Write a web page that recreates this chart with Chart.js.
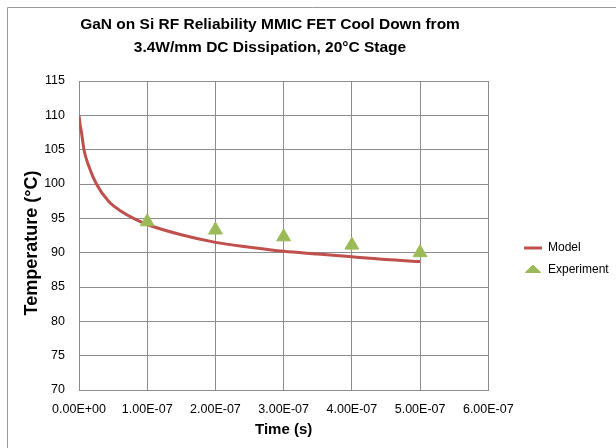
<!DOCTYPE html>
<html><head><meta charset="utf-8">
<script src="https://cdn.jsdelivr.net/npm/chart.js@4"></script>
<style>html,body{margin:0;padding:0;background:#fff}#wrap{width:616px;height:448px;position:relative}</style>
</head><body><div id="wrap"><canvas id="c" width="616" height="448"></canvas></div>
<script>
const titleLines = ['GaN on Si RF Reliability MMIC FET Cool Down from', '3.4W/mm DC Dissipation, 20°C Stage'];
const xAxisTitle = 'Time (s)';
const yAxisTitle = 'Temperature (°C)';
const seriesNames = ['Model', 'Experiment'];

// Model curve (time in s, temperature in °C)
const modelTime = [0, 1.5e-9, 3.5e-9, 7.3e-9, 1.47e-8, 2.55e-8, 4.4e-8, 6.4e-8, 8e-8, 1e-7, 1.5e-7, 2e-7, 2.5e-7, 3e-7, 3.5e-7, 4e-7, 4.5e-7, 5e-7];
const modelTemp = [110, 108.7, 107.6, 105, 102.5, 100, 97.4, 95.9, 95.0, 94.1, 92.6, 91.5, 90.8, 90.2, 89.8, 89.4, 89.0, 88.7];

// Experiment points
const expTime = [1e-7, 2e-7, 3e-7, 4e-7, 5e-7];
const expTemp = [94.5, 93.3, 92.3, 91.1, 90.0];

// Tick values
const xTickValues = [0, 1e-7, 2e-7, 3e-7, 4e-7, 5e-7, 6e-7];
const yTickValues = [70, 75, 80, 85, 90, 95, 100, 105, 110, 115];

function sci(v) {
  const parts = Number(v).toExponential(2).split('e');
  const n = parseInt(parts[1], 10);
  return parts[0] + 'E' + (n < 0 ? '-' : '+') + String(Math.abs(n)).padStart(2, '0');
}

const gridColor = '#8c8c8c';
const FONT = "'Liberation Sans', Arial, sans-serif";

const placePlugin = {
  id: 'place',
  beforeDraw(chart) {
    const ctx = chart.ctx;
    ctx.save();
    ctx.strokeStyle = '#9a9a9a';
    ctx.lineWidth = 1;
    ctx.beginPath();
    ctx.moveTo(7.5, 460);
    ctx.lineTo(7.5, 7.5);
    ctx.lineTo(630, 7.5);
    ctx.stroke();
    ctx.restore();
    if (chart.titleBlock) { chart.titleBlock.left = 7; chart.titleBlock.right = 533; }
    if (chart.legend) {
      chart.legend.left = 514;
      chart.legend.right = 616;
      chart.legend.top = 232;
      chart.legend.bottom = 440;
    }
  }
};

new Chart(document.getElementById('c'), {
  type: 'line',
  data: {
    datasets: [
      {
        label: seriesNames[0],
        data: modelTime.map((t, i) => ({x: t, y: modelTemp[i]})),
        borderColor: '#C0504D',
        backgroundColor: '#C0504D',
        borderWidth: 3,
        pointRadius: 0,
        pointHoverRadius: 0,
        pointStyle: 'line',
        pointBorderColor: '#C0504D',
        pointBorderWidth: 3,
        cubicInterpolationMode: 'monotone',
        fill: false,
        order: 1
      },
      {
        label: seriesNames[1],
        data: expTime.map((t, i) => ({x: t, y: expTemp[i]})),
        showLine: false,
        pointStyle: 'triangle',
        pointRadius: 8,
        pointHoverRadius: 8,
        backgroundColor: '#9BBB59',
        borderColor: '#9BBB59',
        borderWidth: 1,
        order: 0
      }
    ]
  },
  options: {
    responsive: false,
    devicePixelRatio: 1,
    animation: false,
    layout: { padding: { left: 8, right: 23, top: 0, bottom: 0 } },
    plugins: {
      tooltip: { enabled: false },
      title: {
        display: true,
        text: titleLines,
        color: '#000',
        font: { family: FONT, size: 15.5, weight: 'bold', lineHeight: 1.5 },
        padding: { top: 13, bottom: 21.5 }
      },
      legend: {
        display: true,
        position: 'right',
        align: 'start',
        labels: {
          usePointStyle: true,
          pointStyleWidth: 18,
          boxHeight: 7,
          padding: 10,
          color: '#000',
          font: { family: FONT, size: 12 },
          sort: (a, b) => a.datasetIndex - b.datasetIndex
        }
      }
    },
    scales: {
      x: {
        type: 'linear',
        min: 0,
        max: 6e-7,
        afterFit: s => { s.height = 58; },
        afterBuildTicks: s => { s.ticks = xTickValues.map(v => ({value: v})); },
        grid: { color: gridColor, drawTicks: false, lineWidth: 1 },
        border: { color: gridColor, width: 1 },
        ticks: {
          padding: 12,
          color: '#000',
          font: { family: FONT, size: 12.5 },
          maxRotation: 0,
          autoSkip: false,
          callback: v => sci(v)
        },
        title: {
          display: true,
          text: xAxisTitle,
          color: '#000',
          font: { family: FONT, size: 15, weight: 'bold', lineHeight: 1.2 },
          padding: { top: 0, bottom: 9 }
        }
      },
      y: {
        type: 'linear',
        min: 70,
        max: 115,
        afterFit: s => { s.width = 71; },
        afterBuildTicks: s => { s.ticks = yTickValues.map(v => ({value: v})); },
        grid: { color: gridColor, drawTicks: false, lineWidth: 1 },
        border: { color: gridColor, width: 1 },
        ticks: {
          padding: 14,
          color: '#000',
          font: { family: FONT, size: 12.5 },
          autoSkip: false
        },
        title: {
          display: true,
          text: yAxisTitle + '\u00a0\u00a0\u00a0',
          color: '#000',
          font: { family: FONT, size: 18, weight: 'bold', lineHeight: 1.2 },
          padding: { top: 13.2, bottom: 0 }
        }
      }
    }
  },
  plugins: [placePlugin]
});
</script>
</body></html>
